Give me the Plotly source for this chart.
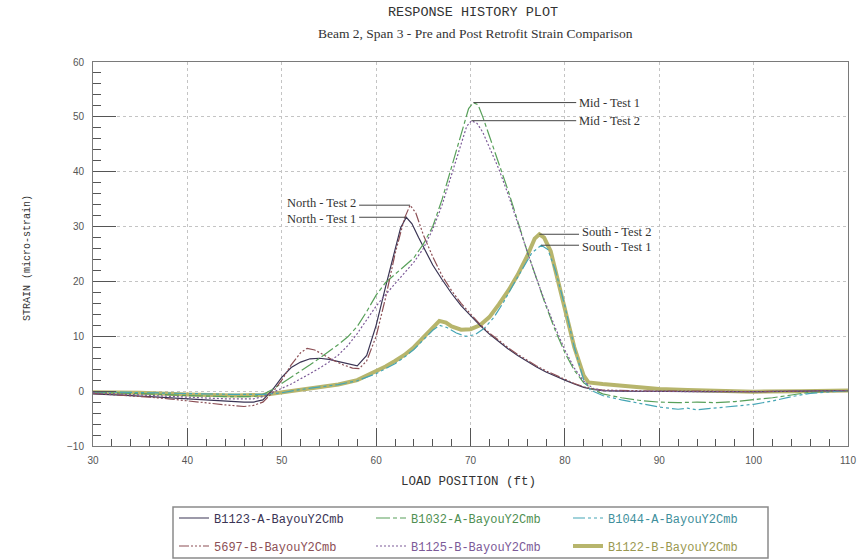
import plotly.graph_objects as go

# ---- Strain histories (load position in ft, strain in micro-strain) ----
# North gauge, Test 1
b1123_a_x = [30, 32, 34, 36, 38, 40, 42, 44, 46, 47, 48, 49, 50, 51, 52, 53, 54, 55, 56, 57,
             58, 59, 60, 61, 62, 62.6, 63.2, 63.8, 64.5, 65, 66, 67, 68, 69, 70, 71, 72, 73,
             74, 75, 76, 77, 78, 79, 80, 81, 82, 83, 84, 86, 90, 95, 100, 105, 110]
b1123_a_y = [-0.5, -0.6, -0.8, -1.0, -1.2, -1.5, -1.7, -1.9, -2.0, -2.0, -1.6, 0.2, 2.5, 4.3,
             5.3, 5.9, 6.0, 5.8, 5.4, 5.0, 4.6, 6.5, 12.0, 19.0, 26.0, 29.8, 31.7, 30.5, 28.0,
             26.3, 23.0, 20.3, 17.8, 15.6, 13.7, 12.0, 10.4, 9.0, 7.7, 6.5, 5.4, 4.4, 3.5, 2.7,
             2.0, 1.3, 0.7, 0.3, 0.1, 0.0, -0.1, -0.1, -0.1, 0.0, 0.1]

# Mid gauge, Test 1
b1032_a_x = [30, 33, 36, 40, 44, 47, 48, 49, 50, 51, 52, 53, 54, 55, 56, 57, 58, 59, 60, 61,
             62, 63, 64, 65, 66, 67, 68, 69, 69.8, 70.3, 70.8, 71.3, 72, 73, 74, 75, 76, 77,
             78, 79, 80, 81, 82, 83, 84, 86, 88, 90, 92, 94, 96, 98, 100, 102, 104, 106, 108,
             110]
b1032_a_y = [-0.2, -0.3, -0.5, -0.8, -1.0, -1.0, -0.6, 0.3, 1.4, 2.5, 3.6, 4.8, 6.0, 7.2, 8.5,
             9.9, 11.8, 14.5, 17.5, 19.8, 21.3, 22.8, 24.3, 26.8, 30.0, 35.0, 41.0, 47.0, 51.5,
             52.6, 52.2, 50.0, 46.5, 41.5, 36.5, 31.0, 25.5, 20.5, 15.5, 11.0, 7.0, 3.8, 1.5,
             0.3, -0.5, -1.2, -1.7, -2.0, -2.1, -2.0, -2.1, -1.9, -1.6, -1.2, -0.7, -0.2, 0.0,
             0.1]

# South gauge, Test 1
b1044_a_x = [30, 35, 40, 45, 48, 50, 52, 54, 56, 58, 60, 62, 63, 64, 65, 66, 66.7, 67.5, 68.5,
             69.5, 70.5, 71.5, 72.5, 73.5, 74.5, 75.5, 76.5, 77.5, 78.2, 79, 80, 81, 82, 82.7,
             84, 86, 88, 90, 92, 93, 94, 96, 98, 100, 102, 104, 106, 108, 110]
b1044_a_y = [-0.1, -0.3, -0.5, -0.6, -0.6, -0.3, 0.3, 0.8, 1.2, 1.9, 3.2, 5.0, 6.2, 7.6, 9.3,
             11.1, 12.0, 11.6, 10.6, 10.0, 10.3, 11.5, 13.5, 16.2, 19.3, 22.3, 25.2, 26.6,
             25.8, 22.0, 15.5, 8.0, 2.0, 0.2, -0.8, -1.6, -2.3, -2.9, -3.3, -3.1, -3.4, -3.1,
             -2.8, -2.4, -1.8, -1.0, -0.4, -0.1, 0.1]

# North gauge, Test 2
g5697_b_x = [30, 32, 34, 36, 38, 40, 42, 44, 46, 47, 48, 49, 50, 51, 52, 52.7, 53.5, 54.5,
             55.5, 56.5, 57.5, 58.2, 59, 60, 61, 62, 63, 63.6, 64.2, 65, 66, 67, 68, 69, 70,
             71, 72, 73, 74, 75, 76, 77, 78, 79, 80, 81, 82, 83, 84, 86, 90, 95, 100, 105, 110]
g5697_b_y = [-0.4, -0.6, -0.8, -1.1, -1.4, -1.8, -2.2, -2.5, -2.8, -2.6, -2.0, -0.3, 2.0, 4.8,
             7.0, 7.8, 7.5, 6.5, 5.6, 4.8, 4.2, 4.1, 5.5, 10.0, 17.0, 25.0, 31.5, 33.9, 32.5,
             28.5, 24.5, 21.0, 18.3, 16.0, 14.0, 12.2, 10.6, 9.2, 7.9, 6.7, 5.6, 4.6, 3.7, 2.9,
             2.1, 1.4, 0.8, 0.4, 0.2, 0.1, 0.0, 0.0, -0.1, 0.0, 0.1]

# Mid gauge, Test 2
b1125_b_x = [30, 33, 36, 40, 44, 47, 48, 49, 50, 51, 52, 53, 54, 55, 56, 57, 58, 59, 60, 61,
             62, 63, 64, 65, 66, 67, 68, 69, 69.6, 70.1, 70.7, 71.3, 72, 73, 74, 75, 76, 77,
             78, 79, 80, 81, 82, 83, 84, 86, 90, 95, 100, 105, 110]
b1125_b_y = [-0.3, -0.5, -0.8, -1.1, -1.4, -1.4, -1.0, -0.3, 0.5, 1.3, 2.2, 3.2, 4.2, 5.3, 6.6,
             8.3, 10.5, 13.0, 15.5, 17.6, 19.5, 21.4, 23.5, 26.0, 29.5, 34.0, 39.5, 45.0,
             48.3, 49.3, 48.8, 47.2, 44.5, 40.5, 35.8, 30.5, 25.5, 20.5, 15.8, 11.5, 7.5, 4.2,
             1.8, 0.5, 0.1, 0.0, -0.1, -0.1, -0.1, 0.0, 0.1]

# South gauge, Test 2
b1122_b_x = [30, 35, 40, 45, 48, 50, 52, 54, 56, 58, 60, 61, 62, 63, 64, 65, 66, 66.7, 67.4,
             68, 69, 70, 71, 72, 73, 74, 75, 76, 76.8, 77.3, 77.8, 78.5, 79, 80, 81, 82, 82.5,
             84, 86, 88, 90, 93, 96, 100, 105, 110]
b1122_b_y = [-0.2, -0.3, -0.6, -0.8, -0.7, -0.2, 0.3, 0.7, 1.2, 2.0, 3.6, 4.5, 5.5, 6.6, 8.0,
             9.8, 11.8, 12.8, 12.5, 11.8, 11.2, 11.3, 12.0, 13.5, 15.8, 18.3, 21.2, 24.6, 27.8,
             28.6, 28.0, 25.5, 22.0, 15.0, 8.0, 2.8, 1.6, 1.3, 1.0, 0.7, 0.4, 0.2, 0.0, -0.1,
             0.0, 0.1]

# ---- Series styling ----
series = [
    # name, x, y, color, dash, width, legend row, legend rank
    ("B1122-B-BayouY2Cmb", b1122_b_x, b1122_b_y, "#b7b56c", "solid", 4, "legend2", 3),
    ("B1123-A-BayouY2Cmb", b1123_a_x, b1123_a_y, "#3a3454", "solid", 1.2, "legend", 1),
    ("B1032-A-BayouY2Cmb", b1032_a_x, b1032_a_y, "#58a05a", "14px,3px,4px,3px", 1.2, "legend", 2),
    ("B1044-A-BayouY2Cmb", b1044_a_x, b1044_a_y, "#45a5b5", "12px,3px,3px,3px,3px,3px", 1.2, "legend", 3),
    ("5697-B-BayouY2Cmb", g5697_b_x, g5697_b_y, "#8c4f55", "10px,2px,2px,2px,2px,2px,2px,2px", 1.2, "legend2", 1),
    ("B1125-B-BayouY2Cmb", b1125_b_x, b1125_b_y, "#7c5a98", "2px,2px", 1.2, "legend2", 2),
]
legend_text_colors = {
    "B1123-A-BayouY2Cmb": "#3a3454",
    "B1032-A-BayouY2Cmb": "#4f8f52",
    "B1044-A-BayouY2Cmb": "#3f8f9c",
    "5697-B-BayouY2Cmb": "#8c4f55",
    "B1125-B-BayouY2Cmb": "#7c5a98",
    "B1122-B-BayouY2Cmb": "#9a9850",
}

# Peak call-outs: series, label, label x position (ft), side of text, vertical nudge (px)
peak_labels = [
    ("B1032-A-BayouY2Cmb", "Mid - Test 1", 81.2, "left", 0),
    ("B1125-B-BayouY2Cmb", "Mid - Test 2", 81.2, "left", 0),
    ("B1122-B-BayouY2Cmb", "South - Test 2", 81.5, "left", 2),
    ("B1044-A-BayouY2Cmb", "South - Test 1", 81.5, "left", -2),
    ("5697-B-BayouY2Cmb", "North - Test 2", 58.2, "right", 2),
    ("B1123-A-BayouY2Cmb", "North - Test 1", 58.2, "right", -2),
]

MONO = "Liberation Mono, Courier New, monospace"
SERIF = "Liberation Serif, Times New Roman, serif"
SANS = "Liberation Sans, Arial, sans-serif"

W, H = 860, 560
L, R, T, B = 93, 12, 62, 114
pw, ph = W - L - R, H - T - B


def px2paper(xp, yp):
    """Convert a pixel position on the page to paper coordinates."""
    return (xp - L) / pw, (H - B - yp) / ph


fig = go.Figure()
for name, xs, ys, color, dash, width, leg, rank in series:
    fig.add_trace(go.Scatter(
        x=xs, y=ys, mode="lines",
        name=f'<span style="color:{legend_text_colors[name]}">{name}</span>',
        line=dict(color=color, dash=dash, width=width),
        legend=leg, legendrank=rank,
    ))

data_by_name = {s[0]: (s[1], s[2]) for s in series}
shapes = []
annotations = []
for name, label, lx, side, nudge in peak_labels:
    xs, ys = data_by_name[name]
    i = max(range(len(ys)), key=lambda k: ys[k])
    px, py = xs[i], ys[i]
    shapes.append(dict(type="line", xref="x", yref="y", x0=px, x1=lx, y0=py, y1=py,
                       line=dict(color="#444444", width=1)))
    annotations.append(dict(
        x=lx, y=py, xref="x", yref="y", text=label, showarrow=False,
        xanchor="left" if side == "left" else "right", yanchor="middle",
        xshift=1 if side == "left" else -1, yshift=nudge,
        font=dict(family=SERIF, size=12.5, color="#333333"),
    ))

# Legend frame
lx0, ly0 = px2paper(173, 507)
lx1, ly1 = px2paper(768, 558)
shapes.append(dict(type="rect", xref="paper", yref="paper", x0=lx0, x1=lx1, y0=ly1, y1=ly0,
                   line=dict(color="#8a8a8a", width=1.5), fillcolor="rgba(0,0,0,0)", layer="above"))

tx, ty = px2paper(473, 13)
sx, sy = px2paper(476, 34)
xtx, xty = px2paper(468, 482)
ytx, yty = px2paper(27, 258)
annotations += [
    dict(text="RESPONSE HISTORY PLOT", x=tx, y=ty, xref="paper", yref="paper",
         showarrow=False, xanchor="center", yanchor="middle",
         font=dict(family=MONO, size=13.5, color="#333333")),
    dict(text="Beam 2, Span 3 - Pre and Post Retrofit Strain Comparison", x=sx, y=sy,
         xref="paper", yref="paper", showarrow=False, xanchor="center", yanchor="middle",
         font=dict(family=SERIF, size=13.5, color="#333333")),
    dict(text="LOAD POSITION (ft)", x=xtx, y=xty, xref="paper", yref="paper",
         showarrow=False, xanchor="center", yanchor="middle",
         font=dict(family=MONO, size=12.5, color="#333333")),
    dict(text="STRAIN (micro-strain)", x=ytx, y=yty, xref="paper", yref="paper",
         showarrow=False, xanchor="center", yanchor="middle", textangle=-90,
         font=dict(family=MONO, size=10, color="#333333")),
]

legend_common = dict(
    orientation="h", xanchor="left", yanchor="middle",
    borderwidth=0, bgcolor="rgba(0,0,0,0)",
    font=dict(family=MONO, size=12, color="#333333"),
    entrywidth=152, entrywidthmode="pixels", itemwidth=30,
    traceorder="normal",
)
row1x, row1y = px2paper(174, 518)
row2x, row2y = px2paper(174, 546)

fig.update_layout(
    width=W, height=H,
    margin=dict(l=L, r=R, t=T, b=B, autoexpand=False),
    paper_bgcolor="white", plot_bgcolor="white",
    shapes=shapes, annotations=annotations,
    legend=dict(x=row1x, y=row1y, **legend_common),
    legend2=dict(x=row2x, y=row2y, **legend_common),
    xaxis=dict(
        range=[30, 110], dtick=10, tick0=30, ticks="inside", ticklen=18, tickwidth=1,
        tickcolor="#555555", showline=True, linecolor="#7a7a7a", linewidth=1, mirror=True,
        showgrid=True, gridcolor="#c4c4c4", griddash="dot", gridwidth=1, zeroline=False,
        tickfont=dict(family=SANS, size=10, color="#555555"), ticklabelstandoff=5,
        minor=dict(dtick=2, ticks="inside", ticklen=7, tickcolor="#555555", showgrid=False),
    ),
    yaxis=dict(
        range=[-10, 60], dtick=10, ticks="inside", ticklen=23, tickwidth=1,
        tickcolor="#555555", showline=True, linecolor="#7a7a7a", linewidth=1, mirror=True,
        showgrid=True, gridcolor="#c4c4c4", griddash="dot", gridwidth=1, zeroline=False,
        tickfont=dict(family=SANS, size=10, color="#555555"), ticklabelstandoff=6,
        minor=dict(dtick=2, ticks="inside", ticklen=8, tickcolor="#555555", showgrid=False),
    ),
)

fig.write_html("out.html")
